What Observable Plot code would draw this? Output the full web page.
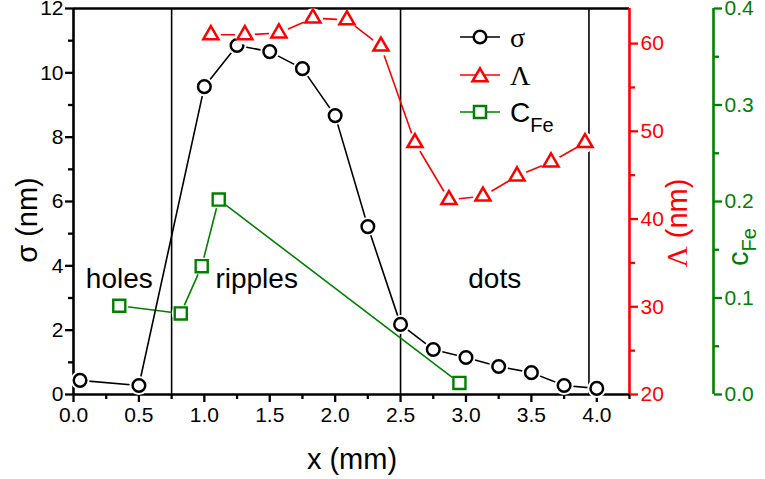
<!DOCTYPE html>
<html><head><meta charset="utf-8">
<script src="https://cdn.jsdelivr.net/npm/d3@7"></script>
<script src="https://cdn.jsdelivr.net/npm/@observablehq/plot@0.6"></script>
<style>
body{margin:0;background:#fff;}
#wrap{position:relative;width:765px;height:479px;font-family:"Liberation Sans",Arial,sans-serif;overflow:hidden;}
#wrap > svg{position:absolute;left:0;top:0;}
</style></head><body><div id="wrap"></div>
<script>
// ---- data ----
const sigmaX = [0.05,0.5,1.0,1.25,1.5,1.75,2.0,2.25,2.5,2.75,3.0,3.25,3.5,3.75,4.0];
const sigmaY = [0.44,0.28,9.57,10.85,10.66,10.13,8.67,5.22,2.18,1.40,1.15,0.87,0.68,0.28,0.19];
const lambdaX = [1.05,1.31,1.57,1.83,2.09,2.35,2.61,2.87,3.13,3.39,3.65,3.91];
const lambdaY = [61.0,61.0,61.2,62.9,62.7,59.7,48.7,42.2,42.6,44.9,46.5,48.7];
const cfeX = [0.35,0.82,0.98,1.11,2.95];
const cfeY = [0.092,0.084,0.133,0.202,0.012];
const boundaries = [0.75,2.5,3.94];
const regionNames = ["holes","ripples","dots"];
const regionX = [0.35,1.4,3.22];
const regionY = [3.6,3.6,3.6];
const xMajor = [0,0.5,1,1.5,2,2.5,3,3.5,4];
const xMinor = [0.25,0.75,1.25,1.75,2.25,2.75,3.25,3.75,4.25];
const sigmaMajor = [0,2,4,6,8,10,12];
const sigmaMinor = [1,3,5,7,9,11];
const lambdaMajor = [20,30,40,50,60];
const lambdaMinor = [25,35,45,55];
const cfeMajor = [0,0.1,0.2,0.3,0.4];
const cfeMinor = [0.05,0.15,0.25,0.35];

const RED = "#ff0000", GREEN = "#008000";
const W = 765, H = 479;
const M = {marginLeft:73, marginRight:136, marginTop:8, marginBottom:85};
const common = {width:W, height:H, ...M, style:{background:"none", overflow:"visible", fontFamily:"'Liberation Sans', Arial, sans-serif"}};
const xs = {domain:[0,4.25], axis:null};
const idx = a => d3.range(a.length);
const wrap = document.getElementById("wrap");

// ---- main (sigma) ----
const main = Plot.plot({
  ...common, x:xs, y:{domain:[0,12], axis:null},
  marks:[
    Plot.ruleX(boundaries, {stroke:"black", strokeWidth:1.6}),
    Plot.text(regionNames, {x:(d,i)=>regionX[i], y:(d,i)=>regionY[i], text:d=>d, fontSize:28, fill:"black"}),
    Plot.axisX({ticks:xMajor, tickSize:8, strokeWidth:2.3, tickPadding:5, fontSize:21, fill:"black", tickFormat:d3.format(".1f"), label:null}),
    Plot.axisX({ticks:xMinor, tickSize:5, strokeWidth:2.3, tickFormat:()=> "", label:null}),
    Plot.axisY({ticks:sigmaMajor, tickSize:8, strokeWidth:2.3, tickPadding:2, fontSize:21, fill:"black", label:null}),
    Plot.axisY({ticks:sigmaMinor, tickSize:5, strokeWidth:2.3, tickFormat:()=> "", label:null}),
    Plot.ruleX([0], {stroke:"black", strokeWidth:2.6}),
    Plot.ruleY([0], {stroke:"black", strokeWidth:2.6}),
    Plot.ruleY([12], {stroke:"black", strokeWidth:2.6})
  ]
});
wrap.appendChild(main);

// ---- green (c_Fe) data ----
const green = Plot.plot({
  ...common, x:xs, y:{domain:[0,0.4], axis:null},
  marks:[
    Plot.line(idx(cfeX), {x:cfeX, y:cfeY, stroke:GREEN, strokeWidth:1.6}),
    Plot.dot(idx(cfeX), {x:cfeX, y:cfeY, r:9, fill:"white", stroke:"none"}),
    Plot.dot(idx(cfeX), {x:cfeX, y:cfeY, symbol:"square", r:6.8, fill:"white", stroke:GREEN, strokeWidth:2.4})
  ]
});
wrap.appendChild(green);

// ---- sigma series on top ----
const sig = Plot.plot({
  ...common, x:xs, y:{domain:[0,12], axis:null},
  marks:[
    Plot.line(idx(sigmaX), {x:sigmaX, y:sigmaY, stroke:"black", strokeWidth:1.6}),
    Plot.dot(idx(sigmaX), {x:sigmaX, y:sigmaY, r:9.5, fill:"white", stroke:"none"}),
    Plot.dot(idx(sigmaX), {x:sigmaX, y:sigmaY, r:6.3, fill:"white", stroke:"black", strokeWidth:2.5})
  ]
});
wrap.appendChild(sig);

// ---- red (Lambda) ----
const red = Plot.plot({
  ...common, x:xs, y:{domain:[20,64], axis:null},
  marks:[
    Plot.line(idx(lambdaX), {x:lambdaX, y:lambdaY, stroke:RED, strokeWidth:1.6}),
    Plot.dot(idx(lambdaX), {x:lambdaX, y:lambdaY, r:10, fill:"white", stroke:"none"}),
    Plot.dot(idx(lambdaX), {x:lambdaX, y:lambdaY, symbol:"triangle", r:5.6, fill:"white", stroke:RED, strokeWidth:2.5}),
    Plot.axisY({anchor:"right", ticks:lambdaMajor, tickSize:8, strokeWidth:2.3, stroke:RED, tickPadding:3, fontSize:21, fill:RED, label:null}),
    Plot.axisY({anchor:"right", ticks:lambdaMinor, tickSize:5, strokeWidth:2.3, stroke:RED, tickFormat:()=> "", label:null}),
    Plot.ruleX([4.25], {stroke:RED, strokeWidth:2.6})
  ]
});
wrap.appendChild(red);

// ---- green axis (offset) ----
const gax = Plot.plot({
  width:W, height:H, marginLeft:600, marginRight:52, marginTop:8, marginBottom:85,
  style:{background:"none", overflow:"visible", fontFamily:"'Liberation Sans', Arial, sans-serif"},
  x:{domain:[0,1], axis:null}, y:{domain:[0,0.4], axis:null},
  marks:[
    Plot.axisY({anchor:"right", ticks:cfeMajor, tickSize:8, strokeWidth:2.3, stroke:GREEN, tickPadding:3, fontSize:21, fill:GREEN, tickFormat:d3.format(".1f"), label:null}),
    Plot.axisY({anchor:"right", ticks:cfeMinor, tickSize:5, strokeWidth:2.3, stroke:GREEN, tickFormat:()=> "", label:null}),
    Plot.ruleX([1], {stroke:GREEN, strokeWidth:2.6})
  ]
});
wrap.appendChild(gax);

// ---- titles and legend ----
const ov = d3.select(wrap).append("svg").attr("width",W).attr("height",H)
  .style("font-family","'Liberation Sans', Arial, sans-serif");
ov.append("text").attr("x",352).attr("y",469).attr("text-anchor","middle").attr("font-size",29).text("x (mm)");
const t1 = ov.append("text").attr("transform","translate(37,220) rotate(-90)").attr("text-anchor","middle").attr("font-size",29);
t1.append("tspan").text("σ (nm)");
const t2 = ov.append("text").attr("transform","translate(687,223) rotate(-90)").attr("text-anchor","middle").attr("font-size",29).attr("fill",RED);
t2.append("tspan").attr("font-family","'Liberation Serif', serif").text("Λ");
t2.append("tspan").text(" (nm)");
const t3 = ov.append("text").attr("transform","translate(748,247) rotate(-90)").attr("text-anchor","middle").attr("font-size",29).attr("fill",GREEN);
t3.append("tspan").text("c");
t3.append("tspan").attr("font-size",20).attr("dy",8).text("Fe");

// legend
const lg = ov.append("g");
const rows = [
  {y:37, color:"black", sym:"circle", label:"σ"},
  {y:75, color:RED, sym:"triangle", label:"Λ"},
  {y:112, color:GREEN, sym:"square", label:"C"}
];
rows.forEach(r=>{
  lg.append("line").attr("x1",460).attr("x2",500).attr("y1",r.y).attr("y2",r.y).attr("stroke",r.color).attr("stroke-width",1.6);
  let sym = r.sym==="circle" ? d3.symbol(d3.symbolCircle, Math.PI*6.3*6.3)
          : r.sym==="triangle" ? d3.symbol(d3.symbolTriangle, Math.PI*5.6*5.6)
          : d3.symbol(d3.symbolSquare, Math.PI*6.8*6.8);
  lg.append("path").attr("d",sym()).attr("transform",`translate(480,${r.y + (r.sym==="triangle"?2:0)})`)
    .attr("fill","white").attr("stroke",r.color).attr("stroke-width",2.5);
  const tx = lg.append("text").attr("x",510).attr("y",r.y).attr("dy","0.35em").attr("font-size",28).attr("fill","black");
  if (r.label==="C") { tx.append("tspan").text("C"); tx.append("tspan").attr("font-size",20).attr("dy",10).text("Fe"); }
  else tx.attr("font-family","'Liberation Serif', serif").text(r.label);
});
</script></body></html>
